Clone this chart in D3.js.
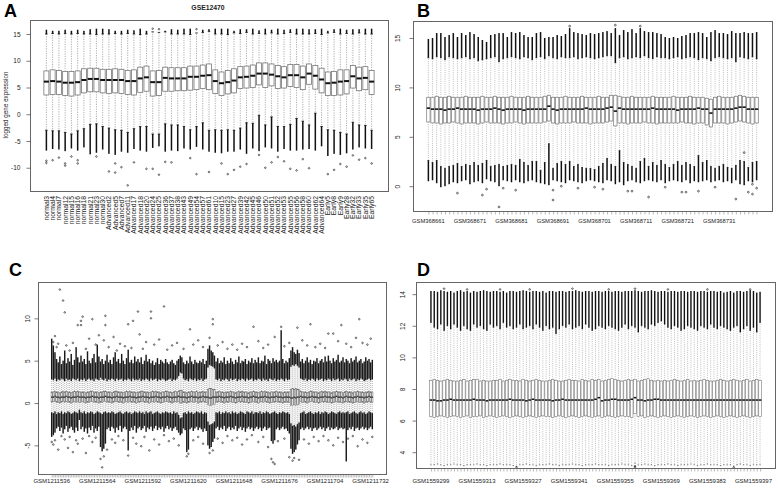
<!DOCTYPE html>
<html>
<head>
<meta charset="utf-8">
<script src="https://cdnjs.cloudflare.com/ajax/libs/d3/7.8.5/d3.min.js"></script>
<style>
  body { margin: 0; background: #fff; }
  text { font-family: "Liberation Sans", Arial, sans-serif; }
</style>
</head>
<body>
<script>
// ---------- panel A : GSE12470 ----------
const aLabels = ['normal3','normal4','normal7','normal12','normal15','normal16','normal18','normal21','normal23','normal30',
  'Advanced2','Advanced5','Advanced7','Advanced11','Advanced17','Advanced18','Advanced20','Advanced24','Advanced25','Advanced36',
  'Advanced37','Advanced38','Advanced43','Advanced49','Advanced54','Advanced57','Advanced61','Advanced10','Advanced15','Advanced23',
  'Advanced27','Advanced39','Advanced42','Advanced45','Advanced46','Advanced50','Advanced51','Advanced52','Advanced53','Advanced55',
  'Advanced56','Advanced58','Advanced60','Advanced62','Advanced64','Early5','Early8','Early9','Early28','Early32',
  'Early33','Early35','Early65'];
const aMed = [6.1,6.2,6.1,5.9,5.9,6.0,6.4,6.6,6.6,6.4, 6.4,6.4,6.4,6.2,6.2,6.7,6.9,6.0,6.0,6.8,
  6.7,6.7,6.7,7.0,7.0,7.2,7.3,6.2,5.8,6.0, 6.3,6.9,7.0,7.2,7.6,7.6,7.4,7.1,6.9,7.3,
  7.3,6.9,7.6,7.2,6.5,5.8,5.9,6.1,6.2,7.1, 6.7,6.8,6.1];
const aQ3 = [8.1,8.3,8.2,8.0,8.0,8.1,8.5,8.6,8.6,8.4, 8.4,8.5,8.4,8.2,8.3,8.8,9.0,8.1,8.2,8.8,
  8.7,8.7,8.7,9.0,9.0,9.2,9.4,8.3,7.9,8.2, 8.5,8.9,9.0,9.2,9.6,9.6,9.4,9.1,8.9,9.3,
  9.3,9.0,9.4,9.1,8.6,7.9,8.0,8.3,8.3,9.1, 8.8,8.9,8.2];
const aQ1 = [3.6,3.7,3.7,3.5,3.4,3.6,4.0,4.2,4.2,4.0, 3.9,4.0,3.9,3.7,3.6,4.1,4.3,3.4,3.5,4.3,
  4.3,4.4,4.4,4.5,4.6,4.8,4.6,3.9,3.5,3.8, 4.0,4.8,4.9,5.0,5.5,5.0,5.3,4.8,4.9,5.2,
  5.0,4.6,5.6,4.7,4.0,3.5,3.5,3.6,3.8,4.9, 4.4,4.6,3.7];
const aWHi = [15.0,15.1,15.0,15.1,15.0,15.1,15.0,15.0,14.9,15.0, 15.0,15.1,15.0,15.1,15.0,14.9,15.0,15.4,15.3,15.4,
  15.0,15.0,15.0,14.9,15.2,15.3,15.5,15.0,15.0,14.9, 15.2,15.1,15.3,15.0,15.1,15.0,15.2,15.0,15.1,15.3,
  15.0,15.0,15.0,15.1,14.9,15.2,15.3,15.0,15.1,15.0, 15.2,15.0,15.0];
const aOHi = [15.8,15.6,15.6,15.8,15.6,15.8,15.6,15.9,16.0,16.0, 15.9,15.6,15.6,15.8,15.7,16.0,15.6,15.4,15.3,15.6,
  15.9,15.8,16.0,16.0,15.2,15.8,15.9,16.0,16.0,16.0, 15.6,15.9,15.9,16.0,15.7,16.0,15.8,16.0,15.8,15.9,
  16.0,16.0,15.9,15.9,16.0,15.6,15.9,16.0,15.8,15.9, 15.9,16.0,16.0];
const aWLo = [-3.0,-3.1,-3.1,-3.4,-3.7,-3.1,-2.7,-1.9,-1.8,-2.3, -2.6,-2.9,-3.0,-3.4,-2.7,-2.3,-2.3,-3.7,-3.7,-1.8,
  -2.0,-2.0,-2.3,-2.9,-2.3,-1.6,-3.0,-2.9,-3.0,-2.9, -3.0,-2.6,-1.6,-1.7,-0.2,-2.0,-0.5,-2.3,-2.3,-1.9,
  -0.8,-1.3,-2.0,0.2,-2.3,-2.9,-3.0,-3.4,-3.7,-1.5, -2.0,-2.1,-3.0];
const aOLo = [-6.8,-6.5,-6.6,-6.9,-6.4,-6.8,-6.2,-7.5,-7.2,-6.6, -7.4,-7.6,-7.0,-7.2,-6.5,-6.8,-7.0,-6.3,-6.0,-7.0,
  -6.8,-6.9,-6.4,-6.6,-6.1,-6.6,-7.0,-7.2,-7.3,-7.0, -7.0,-6.6,-7.4,-6.4,-6.9,-6.2,-6.4,-7.0,-6.5,-6.8,
  -6.8,-6.6,-6.5,-6.8,-6.0,-7.8,-7.4,-7.6,-7.3,-6.6, -6.2,-6.4,-6.5];
const aPts = [[1,-8.7],[1,-9.1],[2,-8.6],[3,-8.1],[4,-9.2],[4,-9.6],[5,-7.9],[6,-8.6],[6,-9.2],[9,-7.9],
  [11,-10.7],[12,-9.2],[12,-10.9],[13,-9.9],[14,-13.3],[15,-9.0],[17,-10.2],[18,-10.2],[19,-11.3],[20,-8.9],
  [21,-9.0],[24,-8.2],[25,-11.2],[27,-10.8],[29,-9.2],[30,-11.2],[31,-10.4],[32,-9.8],[33,-9.3],[35,-7.6],
  [36,-10.0],[37,-9.0],[38,-8.0],[39,-8.8],[40,-10.2],[41,-10.5],[42,-8.4],[43,-10.1],[46,-11.2],[47,-10.4],
  [48,-9.3],[49,-9.8],[50,-7.7],[51,-8.5],[52,-8.2],[53,-9.2],[18,16.0],[19,15.9],[25,15.9]];

// ---------- panel B : GSM368661 - GSM368740 ----------
const bTickLabels = ['GSM368661','GSM368671','GSM368681','GSM368691','GSM368701','GSM368711','GSM368721','GSM368731'];
const bTickAt = [1,11,21,31,41,51,61,71];
const bMed = [7.9,7.8,7.8,7.8,7.7,7.8,7.8,7.9,7.8,7.8, 7.8,7.8,7.7,7.8,7.8,7.8,7.9,7.8,7.7,7.8,
  7.8,7.8,7.8,7.7,7.8,7.8,7.8,7.8,7.8,8.1, 7.8,7.7,7.8,7.8,7.8,7.8,7.8,7.8,7.9,7.8,
  7.8,7.8,7.8,7.9,8.0,7.6,7.9,7.8,7.8,7.8, 7.8,7.8,7.8,7.8,7.9,7.8,7.8,7.8,7.8,7.8,
  7.7,7.8,7.8,7.8,7.8,7.9,7.8,7.8,7.4,7.8, 7.8,7.8,7.8,7.8,7.9,8.0,8.0,7.8,7.8,7.8];
const bQ3 = [9.0,9.0,9.1,9.0,9.0,9.1,9.0,9.0,9.0,9.1, 9.0,9.0,9.0,9.1,9.0,9.0,9.1,9.0,9.0,9.0,
  9.1,9.0,9.0,9.0,9.1,9.0,9.0,9.0,9.1,9.2, 9.0,9.0,9.0,9.1,9.0,9.0,9.0,9.1,9.0,9.0,
  9.0,9.1,9.0,9.0,9.2,9.2,9.1,9.0,9.0,9.1, 9.0,9.0,9.0,9.0,9.1,9.0,9.0,9.0,9.0,9.1,
  9.0,9.0,9.0,9.1,9.0,9.0,9.0,8.9,8.8,9.0, 9.1,9.0,9.0,9.0,9.1,9.2,9.1,9.0,9.0,9.0];
const bQ1 = [6.5,6.4,6.4,6.3,6.4,6.4,6.5,6.4,6.3,6.4, 6.4,6.4,6.3,6.4,6.5,6.4,6.4,6.4,6.3,6.4,
  6.4,6.5,6.4,6.3,6.4,6.4,6.4,6.4,6.5,6.6, 6.4,6.3,6.4,6.4,6.4,6.5,6.4,6.4,6.4,6.3,
  6.4,6.4,6.4,6.5,6.6,6.1,6.4,6.4,6.3,6.4, 6.4,6.4,6.5,6.4,6.4,6.3,6.4,6.4,6.4,6.4,
  6.4,6.5,6.4,6.4,6.3,6.4,6.4,6.2,6.0,6.4, 6.4,6.4,6.3,6.4,6.5,6.6,6.5,6.4,6.3,6.4];
const bWHi = [13.0,12.9,13.1,13.0,12.8,13.1,13.0,12.9,13.0,13.1, 12.9,13.0,12.7,12.8,12.9,13.0,13.1,12.6,12.9,13.0,
  13.1,13.0,12.9,13.1,13.0,12.8,13.0,13.1,12.9,13.2, 13.0,12.9,13.1,13.0,13.0,13.1,12.9,13.0,13.1,13.0,
  12.9,13.0,13.1,13.2,13.2,12.5,13.0,13.1,12.9,13.0, 13.1,13.0,13.2,13.0,12.9,13.1,13.0,13.0,12.9,13.0,
  13.1,12.9,13.0,13.1,13.0,12.8,13.0,12.9,12.7,13.0, 13.1,13.0,12.9,13.0,12.6,13.1,13.0,12.9,13.1,12.9];
const bOHi = [14.9,15.0,15.5,15.5,15.1,15.3,15.5,15.1,15.5,15.3, 15.6,15.4,15.1,14.8,14.6,15.3,15.4,15.5,15.5,15.1,
  15.6,15.5,15.6,15.3,15.1,15.1,15.5,15.6,15.0,15.1, 15.1,15.3,15.2,15.4,16.0,15.6,15.5,15.4,15.3,15.5,
  15.4,15.5,15.6,15.7,15.5,16.0,15.3,15.8,15.6,15.9, 15.5,16.0,15.7,15.6,15.6,15.5,15.4,15.1,15.0,15.1,
  15.0,15.2,15.3,15.5,15.5,15.6,15.5,15.1,15.6,15.8, 15.5,15.5,15.4,15.7,15.5,15.5,15.6,15.5,15.5,15.6];
const bWLo = [2.6,2.4,2.6,2.0,1.8,2.0,2.1,2.3,2.0,2.2, 2.1,2.4,2.1,2.3,2.6,2.0,2.1,2.2,2.0,2.1,
  2.2,2.1,2.7,2.4,2.1,2.5,2.5,1.6,2.4,4.3, 1.8,2.3,2.5,2.2,2.5,2.0,2.2,1.9,1.8,1.8,
  1.7,2.0,2.3,2.8,2.2,2.0,3.6,2.4,2.2,2.0, 1.8,2.5,2.8,2.0,2.4,2.1,2.6,2.2,1.9,2.2,
  2.5,2.1,2.4,2.2,2.0,3.1,2.4,2.6,2.0,1.8, 2.0,2.2,1.9,1.8,2.1,2.6,2.5,1.9,2.4,2.5];
const bOLo = [0.5,0.6,0.3,-0.1,0.0,0.2,0.4,0.3,0.5,0.6, 0.2,0.4,0.5,0.3,0.7,0.5,0.4,0.0,0.6,0.5,
  0.4,0.6,0.4,0.3,0.5,0.6,0.4,0.3,0.2,0.1, 0.6,0.5,0.4,0.3,0.6,0.5,0.4,0.3,0.5,0.6,
  0.5,0.4,0.3,0.6,0.5,0.2,0.4,0.1,0.5,0.6, 0.4,0.3,0.5,0.6,0.5,0.4,0.6,0.3,0.5,0.6,
  0.5,0.4,0.6,0.3,0.5,0.4,0.5,0.6,0.4,0.5, 0.6,0.4,0.5,0.3,0.6,0.2,0.1,0.5,0.4,0.6];
const bPts = [[8,-0.7],[14,-0.9],[15,-0.3],[18,-2.1],[19,-0.2],[22,-0.4],[31,-0.4],[31,-1.4],[33,0.0],[37,-0.2],
  [41,-0.1],[43,-0.3],[49,-0.5],[50,-0.5],[54,-1.1],[58,-0.1],[62,-0.6],[63,-0.6],[66,-0.5],[70,-0.1],
  [75,-1.3],[77,3.4],[78,-0.6],[79,-0.8],[79,0.2],[80,-0.2],[35,16.2],[46,16.3],[52,16.2]];

// ---------- panel C : GSM1211536 - GSM1211733 ----------
const cTickLabels = ['GSM1211536','GSM1211564','GSM1211592','GSM1211620','GSM1211648','GSM1211676','GSM1211704','GSM1211732'];
const cTickAt = [1,29,57,85,113,141,169,197];
const cMed = [0.7,0.7,0.8,0.7,0.7,0.6,0.7,0.7,0.7,0.8,0.7,0.7,0.6,0.7,0.7,0.7,0.8,0.7,
  0.7,0.7,0.7,0.6,0.7,0.7,0.7,0.8,0.7,0.7,0.7,0.6,0.7,0.7,0.7,0.8,0.7,0.7,
  0.7,0.6,0.7,0.7,0.8,0.7,0.7,0.7,0.6,0.7,0.7,0.7,0.8,0.7,0.7,0.7,0.6,0.7,
  0.7,0.7,0.8,0.7,0.7,0.7,0.6,0.7,0.7,0.7,0.8,0.7,0.7,0.6,0.7,0.7,0.7,0.8,
  0.7,0.7,0.6,0.7,0.7,0.7,0.8,0.7,0.7,0.7,0.7,0.6,0.7,0.7,0.8,0.7,0.7,0.7,
  0.6,0.7,0.7,0.8,0.7,0.7,0.7,0.6,0.6,0.7,0.7,0.7,0.7,0.8,0.7,0.7,0.6,0.7,
  0.7,0.7,0.8,0.7,0.7,0.6,0.7,0.7,0.7,0.8,0.7,0.7,0.7,0.6,0.7,0.7,0.8,0.7,
  0.7,0.6,0.7,0.7,0.7,0.8,0.7,0.7,0.6,0.7,0.7,0.7,0.8,0.7,0.7,0.7,0.6,0.7,
  0.7,0.7,0.7,0.6,0.6,0.7,0.6,0.7,0.7,0.8,0.7,0.7,0.7,0.6,0.7,0.7,0.8,0.7,
  0.7,0.7,0.6,0.7,0.7,0.7,0.8,0.7,0.7,0.7,0.6,0.7,0.7,0.8,0.7,0.7,0.7,0.6,
  0.7,0.8,0.7,0.7,0.7,0.6,0.7,0.7,0.8,0.7,0.7,0.7,0.6,0.7,0.7,0.8,0.7,0.7];
const cQ1 = [0.1,0.2,0.2,0.1,0.1,0.0,0.1,0.2,0.1,0.2,0.1,0.1,0.0,0.1,0.2,0.1,0.2,0.1,
  0.1,0.2,0.1,0.0,0.1,0.1,0.2,0.2,0.1,0.1,0.1,0.0,0.1,0.1,0.2,0.2,0.1,0.1,
  0.1,0.0,0.1,0.2,0.2,0.1,0.1,0.1,0.0,0.1,0.2,0.1,0.2,0.1,0.1,0.1,0.0,0.1,
  0.1,0.2,0.2,0.1,0.1,0.1,0.0,0.1,0.2,0.1,0.2,0.1,0.1,0.0,0.1,0.1,0.2,0.2,
  0.1,0.1,0.0,0.1,0.2,0.1,0.2,0.0,0.0,0.1,0.1,0.0,0.1,0.1,0.2,0.1,0.1,0.2,
  0.0,0.1,0.1,0.2,0.1,0.1,-0.2,-0.3,-0.3,-0.2,-0.2,0.1,0.1,0.2,0.1,0.1,0.0,0.1,
  0.1,0.1,0.2,0.1,0.1,0.0,0.1,0.2,0.1,0.2,0.1,0.1,0.1,0.0,0.1,0.1,0.2,0.1,
  0.1,0.0,0.1,0.2,0.1,0.2,0.1,0.1,0.0,0.1,0.1,0.1,0.2,0.1,0.1,0.1,0.0,0.1,
  0.1,0.1,0.1,-0.3,-0.3,-0.2,-0.3,-0.2,-0.2,0.2,0.1,0.1,0.1,0.0,0.1,0.2,0.2,0.1,
  0.1,0.1,0.0,0.1,0.2,0.1,0.2,0.1,0.1,0.1,0.0,0.1,0.1,0.2,0.1,0.1,0.1,0.0,
  0.1,0.2,0.1,0.1,0.1,0.0,0.1,0.1,0.2,0.1,0.1,0.1,0.0,0.1,0.1,0.2,0.1,0.1];
const cQ3 = [1.3,1.3,1.4,1.3,1.3,1.2,1.3,1.4,1.3,1.4,1.3,1.3,1.2,1.3,1.4,1.3,1.4,1.3,
  1.3,1.3,1.3,1.2,1.3,1.3,1.4,1.4,1.3,1.3,1.3,1.2,1.3,1.3,1.4,1.4,1.3,1.3,
  1.3,1.2,1.3,1.4,1.4,1.3,1.3,1.3,1.2,1.3,1.4,1.3,1.4,1.3,1.3,1.3,1.2,1.3,
  1.3,1.4,1.4,1.3,1.3,1.3,1.2,1.3,1.4,1.3,1.4,1.3,1.3,1.2,1.3,1.3,1.4,1.4,
  1.3,1.3,1.2,1.3,1.4,1.3,1.4,1.5,1.5,1.3,1.3,1.2,1.3,1.3,1.4,1.3,1.3,1.4,
  1.2,1.3,1.3,1.4,1.3,1.3,1.6,1.7,1.7,1.6,1.6,1.3,1.3,1.4,1.3,1.3,1.2,1.3,
  1.3,1.3,1.4,1.3,1.3,1.2,1.3,1.4,1.3,1.4,1.3,1.3,1.3,1.2,1.3,1.3,1.4,1.3,
  1.3,1.2,1.3,1.4,1.3,1.4,1.3,1.3,1.2,1.3,1.3,1.3,1.4,1.3,1.3,1.3,1.2,1.3,
  1.3,1.3,1.3,1.6,1.7,1.6,1.7,1.6,1.6,1.4,1.3,1.3,1.3,1.2,1.3,1.4,1.4,1.3,
  1.3,1.3,1.2,1.3,1.4,1.3,1.4,1.3,1.3,1.3,1.2,1.3,1.3,1.4,1.3,1.3,1.3,1.2,
  1.3,1.4,1.3,1.3,1.3,1.2,1.3,1.3,1.4,1.3,1.3,1.3,1.2,1.3,1.3,1.4,1.3,1.3];
const cWHi = [2.8,2.7,2.9,2.6,2.8,2.7,2.9,2.8,2.6,2.9,2.7,2.8,2.6,2.9,2.8,2.7,2.9,2.6,
  2.8,2.7,2.9,2.6,2.8,2.9,2.7,2.8,2.6,2.9,2.8,2.7,3.0,2.8,2.7,2.9,2.6,2.8,
  2.7,2.9,2.8,2.6,2.9,2.7,2.8,2.9,2.6,2.8,2.7,2.9,2.8,2.6,2.9,2.7,2.8,2.7,
  2.9,2.6,2.8,2.7,2.9,2.8,2.6,2.9,2.7,2.8,2.9,2.6,2.8,2.7,2.9,2.8,2.6,2.7,
  2.8,2.9,2.6,2.8,2.7,2.9,3.2,3.6,3.5,2.9,2.7,2.8,2.6,2.9,2.8,2.7,2.9,2.6,
  2.8,2.7,2.9,2.6,2.8,2.9,4.2,4.5,4.4,4.3,4.1,2.8,2.7,2.9,2.6,2.8,2.7,2.9,
  2.8,2.6,2.9,2.7,2.8,2.9,2.6,2.8,2.7,2.9,2.8,2.6,2.9,2.7,2.8,2.9,2.6,2.8,
  2.7,2.9,2.8,2.6,2.9,2.7,2.8,2.6,2.9,2.8,2.7,2.9,2.6,2.8,2.7,2.9,2.8,2.6,
  2.9,2.7,2.8,4.3,4.5,4.4,4.6,4.4,4.2,2.9,2.8,2.7,2.9,2.6,2.8,2.7,2.9,2.8,
  2.6,2.9,2.7,2.8,2.9,2.6,2.8,2.7,2.9,2.8,2.6,2.9,2.7,2.8,2.9,2.6,2.8,2.7,
  2.9,2.8,2.6,2.9,2.7,2.8,2.9,2.6,2.8,2.7,2.9,2.8,2.6,2.7,2.8,2.9,2.7,2.8];
const cWLo = [-1.1,-1.2,-1.0,-1.3,-1.1,-1.2,-1.0,-1.3,-1.1,-1.2,-1.0,-1.1,-1.3,-1.2,-1.0,-1.1,-1.2,-0.8,
  -1.1,-1.2,-1.0,-1.3,-1.1,-1.2,-1.0,-1.1,-1.3,-1.2,-1.0,-1.1,-1.2,-1.3,-1.1,-1.0,-1.2,-1.1,
  -1.2,-1.0,-1.1,-1.3,-1.2,-1.1,-1.0,-1.2,-1.3,-1.1,-1.0,-1.2,-1.1,-1.3,-1.2,-1.0,-1.1,-1.2,
  -1.0,-1.2,-1.1,-1.3,-1.0,-1.2,-1.1,-1.0,-1.3,-1.2,-1.1,-1.0,-1.2,-1.3,-1.1,-1.2,-1.0,-1.1,
  -1.2,-1.1,-1.3,-1.0,-1.2,-1.1,-1.4,-1.8,-1.7,-1.2,-1.1,-1.3,-1.0,-1.2,-1.1,-1.3,-1.2,-1.0,
  -1.1,-1.2,-1.0,-1.3,-1.1,-1.2,-2.2,-2.6,-2.5,-2.4,-2.2,-1.1,-1.2,-1.0,-1.3,-1.1,-1.2,-1.0,
  -1.2,-1.1,-1.3,-1.0,-1.2,-1.1,-1.3,-1.2,-1.0,-1.1,-1.2,-1.3,-1.0,-1.1,-1.2,-1.0,-1.3,-1.1,
  -1.1,-1.2,-1.0,-1.3,-1.1,-1.2,-1.0,-1.1,-1.3,-1.2,-1.1,-1.0,-1.2,-1.3,-1.1,-1.2,-1.0,-1.1,
  -1.2,-1.1,-1.3,-2.4,-2.7,-2.6,-2.8,-2.5,-2.3,-1.2,-1.1,-1.0,-1.3,-1.2,-1.1,-1.0,-1.2,-1.3,
  -1.1,-1.2,-1.0,-1.3,-1.1,-1.2,-1.0,-1.1,-1.3,-1.2,-1.0,-1.1,-1.2,-1.3,-1.1,-1.0,-1.2,-1.1,
  -1.2,-1.1,-1.0,-1.3,-1.2,-1.1,-1.0,-1.2,-1.3,-1.1,-1.0,-1.2,-1.1,-1.3,-1.2,-1.0,-1.1,-1.2];
const cOHi = [7.6,6.8,6.0,5.2,4.8,5.5,4.6,5.0,6.2,4.7,5.3,4.9,5.8,4.5,5.1,6.6,5.4,4.8,
  5.6,4.9,5.2,4.6,6.1,5.0,4.7,5.3,5.8,4.8,6.9,5.5,4.9,5.2,4.6,5.0,5.7,4.8,
  5.1,4.6,5.4,6.0,4.9,5.2,4.7,5.8,5.0,4.6,5.3,6.3,4.8,5.1,4.7,5.5,4.9,5.2,
  4.8,5.4,4.6,5.0,5.7,4.9,5.2,4.7,5.0,4.5,4.8,5.3,4.6,5.1,4.9,4.7,5.2,4.8,
  4.6,4.9,5.1,4.7,4.5,5.0,5.2,5.6,5.4,4.8,4.6,5.0,4.7,5.5,4.9,4.6,5.1,4.8,
  4.7,5.0,4.8,5.2,4.6,5.0,6.4,6.8,6.2,6.0,5.6,4.9,5.3,4.7,5.0,4.8,5.4,4.6,
  5.0,4.7,5.3,4.9,4.6,5.1,4.8,5.5,4.7,5.0,4.9,5.2,4.6,5.0,4.8,5.3,4.7,5.1,
  4.8,5.4,4.7,5.0,4.9,5.6,4.6,5.2,5.0,4.7,5.3,4.9,5.1,4.8,5.0,8.6,5.2,4.7,
  5.0,4.8,5.3,6.2,6.6,6.0,5.8,6.3,5.9,4.9,5.2,4.7,5.0,5.4,4.8,5.1,4.6,5.0,
  4.9,5.3,4.7,5.0,5.2,4.8,5.5,4.9,5.6,5.0,4.7,5.3,4.9,5.1,5.7,4.8,5.0,5.4,
  4.8,5.2,5.0,4.7,5.3,4.9,5.1,5.5,4.8,5.0,5.2,4.7,4.9,5.4,5.0,5.2,4.8,5.1];
const cOLo = [-4.0,-3.8,-3.5,-3.0,-2.8,-3.3,-2.9,-3.6,-3.1,-2.7,-3.4,-3.0,-2.8,-3.2,-3.5,-2.9,-3.3,-2.0,
  -3.1,-2.8,-3.4,-3.0,-3.6,-2.9,-3.2,-2.7,-3.5,-3.0,-3.3,-2.8,-5.2,-5.7,-5.4,-4.8,-3.1,-2.9,
  -3.3,-2.8,-3.0,-3.5,-2.9,-3.2,-2.7,-3.4,-3.0,-2.8,-3.1,-5.6,-3.3,-2.9,-3.2,-2.7,-3.5,-3.0,
  -2.8,-3.2,-3.0,-2.7,-3.4,-2.9,-3.1,-2.8,-3.3,-3.0,-2.7,-3.2,-2.9,-3.1,-2.8,-3.4,-3.0,-2.7,
  -3.1,-2.9,-3.3,-3.0,-2.8,-3.2,-3.5,-3.8,-3.6,-3.0,-3.2,-5.8,-5.5,-3.1,-2.9,-3.3,-3.0,-2.8,
  -3.2,-2.9,-3.1,-3.4,-3.0,-3.3,-5.0,-5.4,-5.2,-4.6,-4.2,-3.0,-2.8,-3.2,-2.9,-3.1,-2.7,-3.3,
  -3.0,-2.8,-3.2,-2.9,-3.1,-2.7,-3.3,-3.0,-2.8,-3.2,-2.9,-3.4,-3.0,-2.8,-3.1,-2.9,-3.3,-3.0,
  -2.8,-3.1,-2.9,-3.3,-3.0,-2.8,-3.2,-3.0,-2.9,-4.5,-4.8,-4.4,-3.1,-2.9,-3.2,-3.0,-2.8,-3.1,
  -3.0,-3.3,-3.6,-5.4,-6.0,-5.8,-5.5,-4.9,-4.4,-3.1,-2.9,-3.2,-3.0,-2.8,-3.1,-2.9,-3.3,-3.0,
  -2.9,-3.2,-3.0,-2.8,-3.1,-2.9,-3.3,-3.0,-2.8,-3.2,-2.9,-3.1,-3.0,-2.8,-3.2,-3.0,-2.9,-3.1,
  -3.0,-6.9,-3.2,-2.9,-3.1,-2.8,-3.3,-3.0,-2.9,-3.2,-3.0,-2.8,-3.1,-2.9,-3.2,-3.0,-2.8,-3.1];
const cPts = [[3,7.9],[6,13.4],[8,12.1],[9,10.7],[2,7.2],[4,6.6],[5,7.0],[10,6.8],[12,6.2],[14,7.1],
  [17,9.2],[19,9.7],[19,9.2],[20,10.2],[22,6.4],[24,7.6],[26,9.9],[28,6.9],[30,8.0],[33,7.4],
  [34,10.3],[34,9.2],[36,6.6],[39,7.8],[41,6.2],[43,7.0],[46,6.7],[48,9.3],[50,6.5],[51,9.7],
  [54,10.8],[55,8.1],[57,6.4],[59,7.2],[62,10.8],[62,10.0],[64,6.9],[67,7.5],[70,11.4],[72,6.3],
  [75,6.8],[78,7.1],[82,6.4],[86,8.7],[88,6.9],[91,7.4],[94,6.6],[98,7.7],[100,9.9],[100,9.3],
  [103,6.8],[106,7.2],[109,6.4],[112,6.9],[115,6.3],[118,7.0],[121,6.6],[125,9.0],[128,7.3],[131,6.5],
  [134,6.9],[138,7.8],[142,9.0],[144,6.7],[147,7.1],[152,8.9],[155,7.4],[158,6.8],[160,9.3],[163,6.6],
  [166,7.0],[169,6.5],[171,8.2],[174,8.2],[177,7.3],[179,9.2],[182,7.0],[185,6.6],[188,7.7],[190,9.9],
  [192,7.1],[195,6.9],[197,7.6],
  [1,-4.6],[2,-4.9],[3,-4.4],[5,-5.5],[7,-3.9],[9,-4.3],[11,-5.3],[12,-4.0],[14,-5.8],[16,-4.4],
  [17,-4.8],[20,-4.2],[22,-5.9],[24,-3.9],[26,-4.6],[28,-4.1],[31,-6.6],[32,-7.6],[33,-6.3],[35,-5.5],
  [38,-4.3],[40,-4.7],[42,-3.9],[45,-4.4],[48,-6.2],[51,-4.1],[53,-4.8],[56,-5.1],[58,-4.0],[61,-5.6],
  [64,-4.3],[67,-4.9],[70,-3.8],[73,-4.5],[76,-4.2],[79,-5.0],[84,-6.3],[85,-6.0],[88,-4.4],[91,-4.0],
  [94,-4.8],[98,-5.9],[100,-5.6],[103,-4.2],[106,-4.7],[109,-3.9],[112,-4.4],[115,-4.1],[118,-4.9],[121,-4.3],
  [124,-3.8],[128,-4.6],[131,-4.0],[134,-5.2],[136,-6.6],[137,-7.0],[138,-7.2],[140,-4.5],[144,-4.2],[147,-6.4],
  [149,-6.8],[150,-6.5],[153,-6.7],[156,-4.3],[159,-4.8],[162,-4.0],[165,-4.5],[168,-3.9],[171,-4.4],[174,-5.0],
  [177,-4.1],[180,-4.6],[183,-4.2],[186,-3.9],[189,-5.1],[192,-4.3],[195,-4.7],[198,-4.0]];

// ---------- panel D : GSM1559299 - GSM1559399 ----------
const dTickLabels = ['GSM1559299','GSM1559313','GSM1559327','GSM1559341','GSM1559355','GSM1559369','GSM1559383','GSM1559397'];
const dTickAt = [1,15,29,43,57,71,85,99];
const dMed = [7.3,7.3,7.25,7.25,7.3,7.3,7.35,7.3,7.3,7.3, 7.3,7.3,7.3,7.35,7.3,7.3,7.3,7.25,7.3,7.3,
  7.3,7.3,7.3,7.3,7.35,7.3,7.3,7.3,7.3,7.25, 7.3,7.35,7.3,7.3,7.3,7.3,7.3,7.25,7.3,7.3,
  7.35,7.3,7.3,7.3,7.3,7.3,7.3,7.3,7.3,7.3, 7.35,7.45,7.25,7.3,7.3,7.35,7.35,7.3,7.3,7.3,
  7.3,7.35,7.45,7.3,7.3,7.25,7.3,7.3,7.35,7.35, 7.3,7.3,7.3,7.3,7.3,7.3,7.3,7.3,7.3,7.3,
  7.3,7.3,7.3,7.3,7.3,7.3,7.3,7.3,7.3,7.3, 7.3,7.3,7.3,7.3,7.3,7.3,7.3,7.3,7.3,7.3, 7.3];
const dQ3 = [8.55,8.6,8.55,8.5,8.55,8.6,8.55,8.5,8.5,8.55, 8.6,8.5,8.55,8.6,8.6,8.5,8.55,8.5,8.5,8.55,
  8.55,8.6,8.5,8.55,8.6,8.55,8.55,8.5,8.6,8.55, 8.5,8.55,8.6,8.55,8.5,8.5,8.55,8.6,8.55,8.5,
  8.5,8.55,8.6,8.55,8.55,8.5,8.6,8.55,8.5,8.6, 8.55,8.6,8.5,8.55,8.6,8.65,8.6,8.55,8.5,8.55,
  8.6,8.55,8.6,8.5,8.55,8.6,8.65,8.55,8.5,8.55, 8.5,8.55,8.5,8.55,8.6,8.55,8.5,8.55,8.6,8.5,
  8.55,8.5,8.55,8.6,8.55,8.5,8.5,8.55,8.6,8.55, 8.5,8.55,8.6,8.55,8.5,8.55,8.6,8.5,8.55,8.6, 8.55];
const dQ1 = [6.25,6.2,6.25,6.3,6.25,6.2,6.25,6.3,6.25,6.2, 6.25,6.3,6.2,6.25,6.25,6.3,6.2,6.25,6.3,6.25,
  6.2,6.25,6.3,6.25,6.2,6.25,6.3,6.25,6.2,6.25, 6.3,6.25,6.2,6.25,6.3,6.25,6.25,6.2,6.25,6.3,
  6.25,6.2,6.25,6.3,6.25,6.2,6.25,6.3,6.25,6.2, 6.25,6.3,6.2,6.25,6.3,6.25,6.2,6.25,6.3,6.25,
  6.25,6.2,6.45,6.25,6.3,6.2,6.25,6.3,6.25,6.2, 6.25,6.3,6.25,6.2,6.25,6.3,6.25,6.2,6.25,6.3,
  6.25,6.2,6.25,6.3,6.25,6.2,6.25,6.3,6.25,6.2, 6.25,6.3,6.25,6.2,6.25,6.3,6.25,6.2,6.25,6.3, 6.25];
const dWHi = [12.2,11.9,11.8,12.1,11.7,12.0,11.8,12.1,11.9,11.7, 12.0,11.8,11.7,12.1,11.9,12.0,11.8,11.7,12.1,11.9,
  12.0,11.8,12.2,11.9,12.0,11.8,11.9,12.1,11.8,11.9, 12.0,11.8,12.1,11.9,11.7,12.0,11.8,11.9,11.5,11.8,
  12.0,11.9,12.1,11.8,11.9,12.0,11.8,12.1,11.9,11.7, 11.8,12.0,11.9,11.8,12.0,11.9,11.8,11.7,11.9,12.1,
  11.8,12.0,11.9,11.6,12.0,11.9,11.8,12.1,12.0,12.2, 12.3,12.1,11.9,11.8,12.0,11.9,11.7,11.8,12.0,11.9,
  11.8,11.7,12.0,11.9,11.8,12.1,11.9,11.8,12.0,11.9, 11.8,11.7,11.9,12.0,11.6,11.8,12.0,11.7,11.9,11.6, 12.2];
const dOHi = [14.2,14.2,14.15,14.25,14.2,14.15,14.2,14.1,14.2,14.25, 14.15,14.2,14.1,14.2,14.15,14.2,14.25,14.2,14.15,14.2,
  14.2,14.15,14.2,14.1,14.2,14.2,14.15,14.2,14.25,14.2, 14.15,14.2,14.2,14.15,14.2,14.1,14.2,14.2,14.15,14.2,
  14.2,14.15,14.2,14.2,14.25,14.2,14.15,14.2,14.2,14.15, 14.2,14.2,14.15,14.2,14.2,14.15,14.2,14.2,14.15,14.2,
  14.2,14.2,14.25,14.2,14.15,14.2,14.2,14.25,14.2,14.15, 14.2,14.2,14.15,14.2,14.2,14.15,14.2,14.2,14.15,14.2,
  14.2,14.15,14.2,14.2,14.15,14.2,14.2,14.15,14.2,14.1, 14.15,14.2,14.1,14.2,14.2,14.15,14.2,14.25,14.2,14.1, 14.15];
const dWLo = [3.2,3.2,3.25,3.2,3.15,3.2,3.2,3.25,3.2,3.2, 3.15,3.2,3.2,3.2,3.25,3.2,3.2,3.15,3.2,3.2,
  3.2,3.25,3.2,3.2,3.2,3.15,3.1,3.2,3.2,3.25, 3.2,3.2,3.15,3.2,3.2,3.2,3.25,3.2,3.2,3.15,
  3.2,3.2,3.2,3.25,3.2,3.2,3.15,3.2,3.2,3.2, 3.25,3.2,3.2,3.2,3.15,3.2,3.2,3.2,3.25,3.2,
  3.2,3.15,3.3,3.2,3.2,3.25,3.2,3.2,3.15,3.2, 3.2,3.2,3.25,3.2,3.2,3.15,3.2,3.2,3.2,3.25,
  3.2,3.15,3.2,3.2,3.25,3.2,3.2,3.2,3.15,3.2, 3.2,3.2,3.1,3.2,3.25,3.2,3.2,3.15,3.2,3.2, 3.2];
const dPts = [[27,3.05],[63,3.05],[63,3.12],[93,3.02],[5,14.35],[12,14.3],[22,14.3],[31,14.3],[44,14.35],
  [55,14.3],[63,14.35],[73,14.3],[85,14.3],[98,14.3]];

// ---------- drawing ----------
const svg = d3.select('body').append('svg').attr('width', 778).attr('height', 490);

function boxPanel(p) {
  const n = p.med.length;
  ['q1','q3','wHi','wLo','oHi','oLo'].forEach(k => {
    if (p[k].length !== n) throw new Error(p.name + ' ' + k + ' length ' + p[k].length + ' != ' + n);
  });
  const pad = 0.04 * n;
  const x = d3.scaleLinear().domain([0.5 - pad, n + 0.5 + pad]).range([p.left, p.right]);
  const y = d3.scaleLinear().domain(p.yDomain).range([p.bottom, p.top]);
  const bw = (x(2) - x(1)) * 0.8;
  const ids = d3.range(n);
  const cx = i => x(i + 1);
  const g = svg.append('g');

  // dotted whiskers
  const wk = g.append('g').attr('stroke', p.whiskCol).attr('stroke-width', p.whiskW)
    .attr('stroke-dasharray', p.dash);
  wk.selectAll('line.up').data(ids).join('line').attr('class', 'up')
    .attr('x1', cx).attr('x2', cx).attr('y1', i => y(p.q3[i])).attr('y2', i => y(p.wHi[i]));
  wk.selectAll('line.dn').data(ids).join('line').attr('class', 'dn')
    .attr('x1', cx).attr('x2', cx).attr('y1', i => y(p.q1[i])).attr('y2', i => y(p.wLo[i]));

  // staples
  const st = g.append('g').attr('stroke', p.capCol).attr('stroke-width', p.capW);
  st.selectAll('line.cu').data(ids).join('line').attr('class', 'cu')
    .attr('x1', i => cx(i) - bw / 4).attr('x2', i => cx(i) + bw / 4)
    .attr('y1', i => y(p.wHi[i])).attr('y2', i => y(p.wHi[i]));
  st.selectAll('line.cd').data(ids).join('line').attr('class', 'cd')
    .attr('x1', i => cx(i) - bw / 4).attr('x2', i => cx(i) + bw / 4)
    .attr('y1', i => y(p.wLo[i])).attr('y2', i => y(p.wLo[i]));

  // dense runs of outliers (overlapping circles read as solid bars)
  const ob = g.append('g').attr('fill', p.outCol);
  ob.selectAll('rect.oh').data(ids.filter(i => p.oHi[i] > p.wHi[i])).join('rect').attr('class', 'oh')
    .attr('x', i => cx(i) - p.outW / 2).attr('width', p.outW)
    .attr('y', i => y(p.oHi[i])).attr('height', i => y(p.wHi[i]) - y(p.oHi[i]));
  ob.selectAll('rect.ol').data(ids.filter(i => p.oLo[i] < p.wLo[i])).join('rect').attr('class', 'ol')
    .attr('x', i => cx(i) - p.outW / 2).attr('width', p.outW)
    .attr('y', i => y(p.wLo[i])).attr('height', i => y(p.oLo[i]) - y(p.wLo[i]));

  // boxes
  g.append('g').selectAll('rect').data(ids).join('rect')
    .attr('x', i => cx(i) - bw / 2).attr('width', bw)
    .attr('y', i => y(p.q3[i])).attr('height', i => y(p.q1[i]) - y(p.q3[i]))
    .attr('fill', p.boxFill).attr('stroke', p.boxCol).attr('stroke-width', p.boxW);

  // medians
  g.append('g').attr('stroke', '#111').attr('stroke-width', p.medW)
    .selectAll('line').data(ids).join('line')
    .attr('x1', i => cx(i) - bw / 2).attr('x2', i => cx(i) + bw / 2)
    .attr('y1', i => y(p.med[i])).attr('y2', i => y(p.med[i]));

  // single outliers
  g.append('g').selectAll('circle').data(p.pts).join('circle')
    .attr('cx', d => x(d[0])).attr('cy', d => y(d[1])).attr('r', p.ptR)
    .attr('fill', 'none').attr('stroke', '#111').attr('stroke-width', 0.6);

  // frame
  g.append('rect').attr('x', p.left + 0.5).attr('y', p.top + 0.5)
    .attr('width', p.right - p.left).attr('height', p.bottom - p.top)
    .attr('fill', 'none').attr('stroke', '#666').attr('stroke-width', 1);

  // y axis
  const ya = g.append('g').attr('transform', `translate(${p.left + 0.5},0)`)
    .call(d3.axisLeft(y).tickValues(p.yTicks).tickSize(4).tickPadding(p.ylabPad).tickFormat(d => String(d)));
  ya.select('.domain').remove();
  ya.selectAll('line').attr('stroke', '#444').attr('stroke-width', 0.7);
  ya.selectAll('text').attr('font-size', p.fs).attr('fill', '#222')
    .attr('font-family', '"Liberation Sans", Arial, sans-serif');
  if (p.yRot) {
    ya.selectAll('text').attr('transform', 'rotate(-90)').attr('text-anchor', 'middle')
      .attr('x', 0).attr('y', -p.yRotOff).attr('dy', '0.35em');
  }

  // x ticks and labels
  if (p.xTicks) {
    const xa = g.append('g').attr('transform', `translate(0,${p.bottom + 0.5})`)
      .call(d3.axisBottom(x).tickValues(ids.map(i => i + 1)).tickSize(3).tickFormat(''));
    xa.select('.domain').remove();
    xa.selectAll('line').attr('stroke', '#777').attr('stroke-width', 0.5);
  }
  if (p.xRot) {
    g.append('g').selectAll('text').data(p.xLabels).join('text')
      .attr('transform', (d, k) => `translate(${x(k + 1)},${p.bottom + 5}) rotate(-90)`)
      .attr('text-anchor', 'end').attr('dy', '0.35em')
      .attr('font-size', p.xfs).attr('fill', '#222').text(d => d);
  } else {
    g.append('g').selectAll('text').data(p.xLabels).join('text')
      .attr('x', (d, k) => x(p.xLabelAt[k])).attr('y', p.xLabY)
      .attr('text-anchor', 'middle').attr('font-size', p.xfs).attr('fill', '#222').text(d => d);
  }
  return {x, y};
}

boxPanel({name: 'A', left: 30, right: 388, top: 20, bottom: 191, yDomain: [-14.35, 17.62],
  yTicks: [-10, -5, 0, 5, 10, 15], yRot: false, ylabPad: 6, fs: 6.5,
  med: aMed, q1: aQ1, q3: aQ3, wHi: aWHi, wLo: aWLo, oHi: aOHi, oLo: aOLo, pts: aPts,
  whiskCol: '#777', whiskW: 0.6, dash: '1.2,1.2', capCol: '#222', capW: 0.9,
  outCol: '#111', outW: 1.5, boxFill: '#fff', boxCol: '#777', boxW: 0.8, medW: 2, ptR: 0.8,
  xTicks: false, xRot: true, xLabels: aLabels, xfs: 6.8});

boxPanel({name: 'B', left: 413, right: 772, top: 21, bottom: 211, yDomain: [-2.51, 16.72],
  yTicks: [0, 5, 10, 15], yRot: true, yRotOff: 16, ylabPad: 2, fs: 6.5,
  med: bMed, q1: bQ1, q3: bQ3, wHi: bWHi, wLo: bWLo, oHi: bOHi, oLo: bOLo, pts: bPts,
  whiskCol: '#888', whiskW: 0.55, dash: '1,1.2', capCol: '#222', capW: 0.8,
  outCol: '#111', outW: 1.5, boxFill: '#fff', boxCol: '#777', boxW: 0.7, medW: 1.6, ptR: 0.9,
  xTicks: true, xRot: false, xLabels: bTickLabels, xLabelAt: bTickAt, xLabY: 223, xfs: 5.8});

boxPanel({name: 'C', left: 38, right: 386, top: 282, bottom: 474, yDomain: [-8.38, 14.29],
  yTicks: [-5, 0, 5, 10], yRot: true, yRotOff: 10.5, ylabPad: 2, fs: 6.5,
  med: cMed, q1: cQ1, q3: cQ3, wHi: cWHi, wLo: cWLo, oHi: cOHi, oLo: cOLo, pts: cPts,
  whiskCol: '#777', whiskW: 0.55, dash: '1,1', capCol: '#444', capW: 0.6,
  outCol: '#1a1a1a', outW: 1.45, boxFill: '#fff', boxCol: '#555', boxW: 0.5, medW: 1.2, ptR: 0.8,
  xTicks: true, xRot: false, xLabels: cTickLabels, xLabelAt: cTickAt, xLabY: 483, xfs: 6});

boxPanel({name: 'D', left: 416, right: 775, top: 282, bottom: 468, yDomain: [3.0, 14.77],
  yTicks: [4, 6, 8, 10, 12, 14], yRot: true, yRotOff: 13.5, ylabPad: 2, fs: 6.5,
  med: dMed, q1: dQ1, q3: dQ3, wHi: dWHi, wLo: dWLo, oHi: dOHi, oLo: dWLo, pts: dPts,
  whiskCol: '#888', whiskW: 0.55, dash: '1,1.2', capCol: '#333', capW: 0.7,
  outCol: '#111', outW: 1.4, boxFill: '#fff', boxCol: '#777', boxW: 0.6, medW: 1.5, ptR: 0.8,
  xTicks: true, xRot: false, xLabels: dTickLabels, xLabelAt: dTickAt, xLabY: 483, xfs: 6});

// titles, panel letters, y label
svg.append('text').attr('x', 208).attr('y', 10).attr('text-anchor', 'middle')
  .attr('font-size', 6.8).attr('font-weight', 'bold').attr('fill', '#222').text('GSE12470');
svg.append('text').attr('transform', 'translate(8,105) rotate(-90)').attr('text-anchor', 'middle')
  .attr('font-size', 6.3).attr('fill', '#222').text('logged gene expression');

const letters = [['A', 4, 17], ['B', 417, 17], ['C', 9, 276], ['D', 417, 276]];
svg.selectAll('text.letter').data(letters).join('text').attr('class', 'letter')
  .attr('x', d => d[1]).attr('y', d => d[2]).attr('font-size', 18).attr('font-weight', 'bold')
  .attr('fill', '#000').text(d => d[0]);
</script>
</body>
</html>
